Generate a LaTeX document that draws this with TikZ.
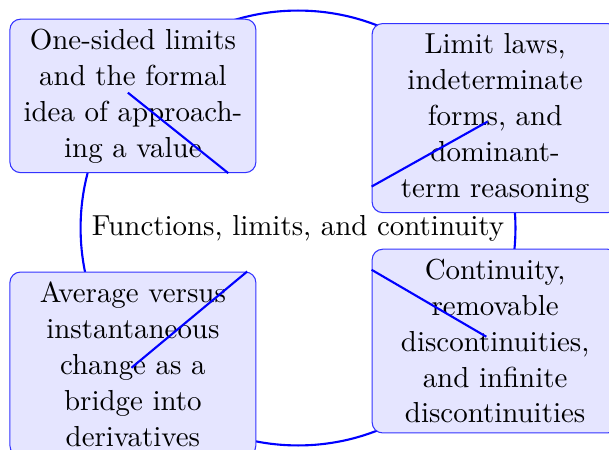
\documentclass[11pt,tikz,border=0pt]{standalone}
\usetikzlibrary{positioning}

\begin{document}
\begin{tikzpicture}[
    x=1pt, y=1pt,
    topic/.style={rectangle, draw=blue!80, fill=blue!10, text width=85.8pt, align=center, rounded corners},
    ring/.style={draw=blue, thick},
    spoke/.style={draw=blue, thick},
]
\useasboundingbox (-112.8,-84) rectangle (117.7,86.3);

% --- Root and ring ---
\node (root) {Functions, limits, and continuity};
\draw[ring] (root.center) circle[radius=82.3];

% --- Points on the ring ---
\coordinate (p1) at (141.5:82.3);
\coordinate (p2) at (29.3:82.3);
\coordinate (p3) at (220:82.3);
\coordinate (p4) at (-30:82.3);

% --- Subtopics ---
\node[topic] (onesided) at (-62.5,50) {One-sided limits and the formal idea of approaching a value};
\node[topic] (laws) at (74.6,41.6) {Limit laws, indeterminate forms, and dominant-\\term reasoning};
\node[topic] (change) at (-62.5,-51.5) {Average versus instantaneous change as a bridge into derivatives};
\node[topic] (contin) at (74.6,-42.8) {Continuity, removable discontinuities, and infinite discontinuities};

% --- Spokes ---
\draw[spoke] (p1) -- (onesided.-39.5);
\draw[spoke] (p2) -- (laws.209.6);
\draw[spoke] (p3) -- (change.39);
\draw[spoke] (p4) -- (contin.150.7);

\end{tikzpicture}
\end{document}
